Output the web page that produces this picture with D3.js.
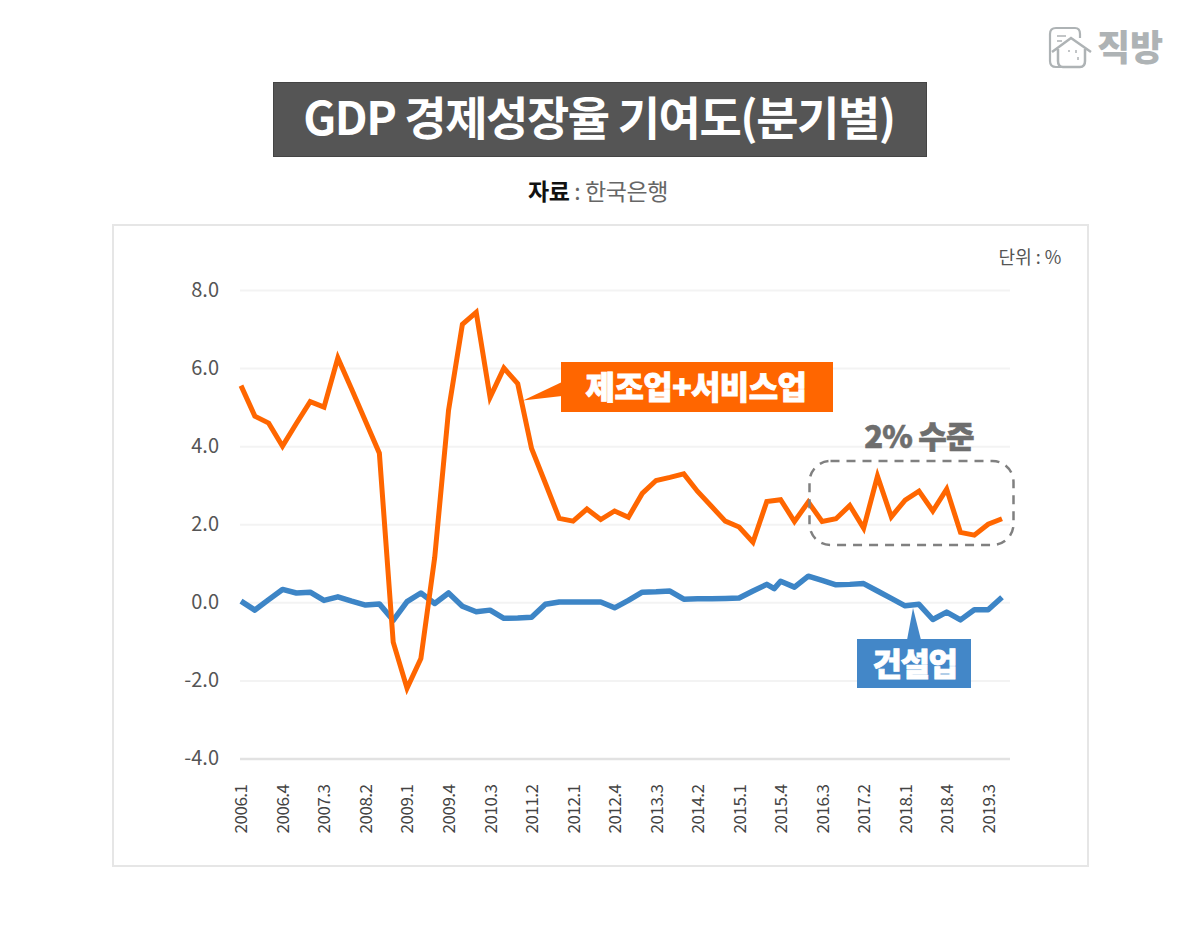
<!DOCTYPE html>
<html><head><meta charset="utf-8">
<script src="https://cdnjs.cloudflare.com/ajax/libs/d3/7.8.5/d3.min.js"></script>
<style>html,body{margin:0;background:#fff}svg{display:block}text{font-family:"Noto Sans CJK KR","Noto Sans",sans-serif}</style>
</head><body><div id="c"></div>
<script>
const yearsQ = d3.range(2006,2020).flatMap(y=>[1,2,3,4].map(q=>y+"."+q));
const tickLabels = ["2006.1","2006.4","2007.3","2008.2","2009.1","2009.4","2010.3","2011.2","2012.1","2012.4","2013.3","2014.2","2015.1","2015.4","2016.3","2017.2","2018.1","2018.4","2019.3"];
const yTicks = [8,6,4,2,0,-2,-4];
const serviceValues = [5.55,4.77,4.59,4.0,4.58,5.14,5.0,6.26,5.46,4.64,3.82,-1.02,-2.2,-1.44,1.15,4.92,7.12,7.43,5.25,6.0,5.6,3.94,3.05,2.15,2.08,2.39,2.12,2.34,2.18,2.79,3.12,3.2,3.29,2.84,2.46,2.08,1.93,1.54,2.58,2.63,2.07,2.57,2.07,2.14,2.48,1.9,3.23,2.19,2.62,2.85,2.34,2.9,1.79,1.72,2.0,2.14];
const constructionValues = [0.03,-0.2,0.07,0.33,0.24,0.26,0.05,0.14,0.03,-0.07,-0.04,-0.46,0.02,0.24,-0.03,0.24,-0.1,-0.24,-0.2,-0.41,-0.4,-0.38,-0.05,0.01,0.01,0.01,0.01,-0.14,0.05,0.26,0.27,0.29,0.08,0.09,0.09,0.1,0.11,0.29,0.46,0.54,0.39,0.67,0.56,0.45,0.46,0.48,0.29,0.1,-0.09,-0.05,-0.44,-0.25,-0.45,-0.19,-0.19,0.13];
const constructionDip = {after:"2015.3", value:0.35};

const W=1200,H=952;
const svg=d3.select("#c").append("svg").attr("width",W).attr("height",H);
const x=d3.scalePoint().domain(yearsQ.slice(0,56)).range([241,1002]);
const y=d3.scaleLinear().domain([-4,8]).range([758.5,290]);

// logo
const logo=svg.append("g").attr("fill","none").attr("stroke","#aeb3b5").attr("stroke-width",2.2);
logo.append("path").attr("d","M1062 67 H1056 Q1050 67 1050 61 V34 Q1050 28 1056 28 H1075 Q1080 28 1080 34 V38");
logo.append("path").attr("d","M1052 52 L1071 38 L1091 52 M1058 49 V61 Q1058 67 1063 67 H1080 Q1085 67 1085 61 V49").attr("stroke-width",2.5);
logo.append("path").attr("d","M1057 36 H1066 M1057 41 H1062").attr("stroke-width",1.5);
logo.append("path").attr("d","M1069 50 V52 M1076 50 V53 M1078 57 V60").attr("stroke-width",1.5);
svg.append("text").attr("x",1130).attr("y",61).attr("text-anchor","middle").attr("font-size",36).attr("font-weight",900).attr("fill","#aeb3b5").text("직방");

// title
svg.append("rect").attr("x",273.5).attr("y",82.5).attr("width",653).attr("height",74).attr("fill","#555555").attr("stroke","#444");
svg.append("text").attr("x",599).attr("y",135).attr("text-anchor","middle").attr("font-size",46).attr("font-weight",700).attr("fill","#fff").attr("letter-spacing",-1.45).text("GDP 경제성장율 기여도(분기별)");
const src=svg.append("text").attr("x",598).attr("y",200).attr("text-anchor","middle").attr("font-size",23).attr("letter-spacing",-0.4);
src.append("tspan").attr("font-weight",700).attr("fill","#111").text("자료");
src.append("tspan").attr("fill","#666").text(" : 한국은행");

// frame
svg.append("rect").attr("x",113).attr("y",225).attr("width",975).attr("height",641).attr("fill","#fff").attr("stroke","#e6e6e6").attr("stroke-width",2);
svg.append("text").attr("x",1030).attr("y",264).attr("text-anchor","middle").attr("font-size",18).attr("fill","#555").attr("xml:space","preserve").text("단위 : %");

// axes
const gy=svg.append("g").attr("transform","translate(240,0)")
  .call(d3.axisLeft(y).tickValues(yTicks).tickSize(-770).tickPadding(21).tickFormat(d=>d.toFixed(1)));
gy.select(".domain").remove();
gy.selectAll(".tick line").attr("stroke",d=>d===-4?"#e2e2e2":"#f3f3f3").attr("stroke-width",d=>d===-4?2.5:2);
gy.selectAll("text").attr("font-size",20).attr("fill","#555").attr("font-family","'Noto Sans',sans-serif");
const gx=svg.append("g").attr("transform","translate(0,758.5)")
  .call(d3.axisBottom(x).tickValues(tickLabels).tickSize(0));
gx.select(".domain").remove();
gx.selectAll("text").attr("font-size",17).attr("fill","#444").attr("letter-spacing",-0.5)
  .attr("font-family","'Noto Sans',sans-serif")
  .attr("transform","rotate(-90)").attr("text-anchor","end").attr("x",-26).attr("y",0).attr("dy","0.35em");

// lines
const serviceData=serviceValues.map((v,i)=>({px:x(yearsQ[i]),v}));
const constructionData=constructionValues.map((v,i)=>({px:x(yearsQ[i]),v}));
const di=yearsQ.indexOf(constructionDip.after);
constructionData.splice(di+1,0,{px:(x(yearsQ[di])+x(yearsQ[di+1]))/2+0.5,v:constructionDip.value});
const line=d3.line().x(d=>d.px).y(d=>y(d.v));
svg.append("path").datum(constructionData).attr("d",line).attr("fill","none").attr("stroke","#3d85c6").attr("stroke-width",5.5).attr("stroke-linejoin","round");
svg.append("path").datum(serviceData).attr("d",line).attr("fill","none").attr("stroke","#ff6600").attr("stroke-width",5).attr("stroke-linejoin","miter");

// orange callout
svg.append("path").attr("d","M562 382 L523 400.5 L562 396 Z").attr("fill","#ff6600");
svg.append("rect").attr("x",561).attr("y",362).attr("width",272).attr("height",50).attr("fill","#ff6600");
svg.append("text").attr("x",696).attr("y",399).attr("text-anchor","middle").attr("font-size",32).attr("font-weight",900).attr("fill","#fff").attr("stroke","#fff").attr("stroke-width",0.8).attr("letter-spacing",-0.6).text("제조업+서비스업");

// blue callout
svg.append("path").attr("d","M913 608 L907 640 L921 640 Z").attr("fill","#4387c8");
svg.append("rect").attr("x",857).attr("y",639).attr("width",114).attr("height",49).attr("fill","#4387c8");
svg.append("text").attr("x",914.5).attr("y",676).attr("text-anchor","middle").attr("font-size",32).attr("font-weight",900).attr("fill","#fff").attr("stroke","#fff").attr("stroke-width",0.8).attr("letter-spacing",-1.5).text("건설업");

// 2% band
svg.append("rect").attr("x",809.5).attr("y",461).attr("width",204).attr("height",84).attr("rx",21).attr("fill","none").attr("stroke","#808080").attr("stroke-width",2.5).attr("stroke-dasharray","9 7");
svg.append("text").attr("x",919).attr("y",448).attr("text-anchor","middle").attr("font-size",31).attr("font-weight",900).attr("fill","#6e6e6e").attr("stroke","#6e6e6e").attr("stroke-width",0.6).attr("letter-spacing",-0.8).text("2% 수준");
</script></body></html>
